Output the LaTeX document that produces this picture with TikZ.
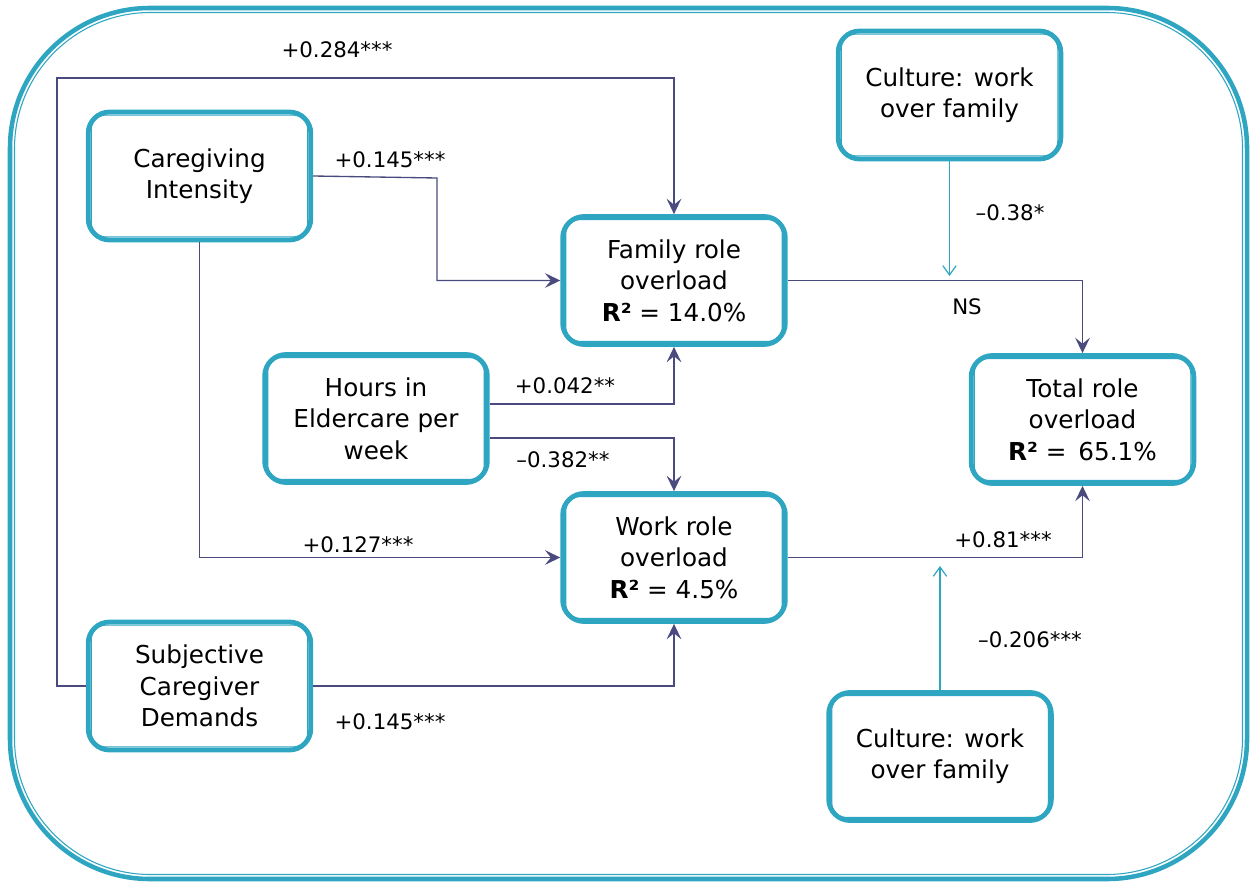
\documentclass[tikz,border=0pt]{standalone}
\usepackage{fontspec}
\setmainfont{DejaVu Sans}
\usetikzlibrary{arrows.meta}
\definecolor{tealc}{HTML}{2EA5C1}
\definecolor{linec}{HTML}{4A4A7E}
\tikzset{
  rbox/.style={draw=tealc, line width=3.6pt, rounded corners=16pt, fill=white,
    minimum width=167pt, minimum height=96pt, align=center,
    font=\fontsize{18.5}{23.5}\selectfont},
  conn/.style={draw=linec, line width=1pt, -{Stealth[length=11.5pt,width=11pt,inset=4.5pt]}},
  modc/.style={draw=tealc, line width=0.9pt, -{Straight Barb[length=7pt,width=10pt]}},
  coef/.style={font=\fontsize{16}{18}\selectfont, inner sep=1pt}
}
% double-lined rounded box: thick outer border plus thin inner border
\newcommand\rolebox[3]{%
  \node[rbox] (#1) at (#2) {#3};
  \draw[tealc, line width=0.8pt, rounded corners=11pt]
    ([shift={(4.1pt,4.1pt)}]#1.south west) rectangle ([shift={(-4.1pt,-4.1pt)}]#1.north east);
}
\begin{document}
\begin{tikzpicture}[x=0.75pt,y=-0.75pt]
\useasboundingbox (0,0) rectangle (1251,884);
% outer frame
\draw[tealc, line width=3.4pt, rounded corners=105pt] (10,8) rectangle (1247,879);
\draw[tealc, line width=0.8pt, rounded corners=102pt] (14.5,12.5) rectangle (1242.5,874.5);

% boxes
\rolebox{care}{199.5,176}{Caregiving\\Intensity}
\rolebox{fam}{674,280.5}{Family role\\overload\\\textbf{R²} = 14.0\%}
\rolebox{cul1}{949.5,95}{Culture: work\\over family}
\rolebox{hrs}{376,418.5}{Hours in\\Eldercare per\\week}
\rolebox{tot}{1082.5,419.5}{Total role\\overload\\\textbf{R²} =\ \,65.1\%}
\rolebox{work}{674,557.5}{Work role\\overload\\\textbf{R²} = 4.5\%}
\rolebox{sub}{199.5,686}{Subjective\\Caregiver\\Demands}
\rolebox{cul2}{940,756.5}{Culture: work\\over family}

% paths
\draw[conn] (sub.west) -| (57,78) -| (fam.north);
\draw[conn] (care.east) -- (437,178) |- (fam.west);
\draw[conn] (care.south) |- (work.west);
\draw[conn] ([yshift=11pt]hrs.east) -| (fam.south);
\draw[conn] ([yshift=-14.6pt]hrs.east) -| (work.north);
\draw[conn] (sub.east) -| (work.south);
\draw[conn] (fam.east) -| (tot.north);
\draw[conn] (work.east) -| (tot.south);

% moderation arrows
\coordinate (m1) at (949.5,276);
\coordinate (m2) at (940,566);
\draw[modc] (cul1.south) -- (m1);
\draw[modc] (cul2.north) -- (m2);

% coefficients
\node[coef] (l1) at (337,50) {+0.284***};
\node[coef] (l2) at (390,160) {+0.145***};
\node[coef] (l3) at (358,545) {+0.127***};
\node[coef] (l4) at (565,386) {+0.042**};
\node[coef] (l5) at (563,460) {–0.382**};
\node[coef] (l6) at (390,722) {+0.145***};
\node[coef] (l7) at (967,307) {NS};
\node[coef] (l8) at (1003,540) {+0.81***};
\node[coef] (l9) at (1010,213) {–0.38*};
\node[coef] (l10) at (1030,640) {–0.206***};
\end{tikzpicture}
\end{document}
